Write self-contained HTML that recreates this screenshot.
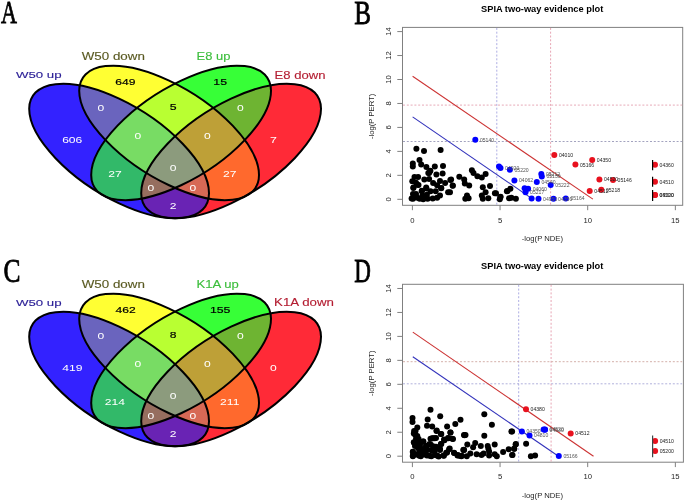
<!DOCTYPE html><html><head><meta charset="utf-8"><style>html,body{margin:0;padding:0;background:#fff;}svg{display:block;will-change:transform;}text{font-family:"Liberation Sans",sans-serif;}</style></head><body>
<svg width="685" height="502" viewBox="0 0 685 502">
<rect width="685" height="502" fill="#fff"/>
<text x="0.88" y="23.30" textLength="15.98" lengthAdjust="spacingAndGlyphs" font-size="32.58" fill="#000" style="font-family:'Liberation Serif'" stroke="#000" stroke-width="0.8">A</text>
<text x="354.21" y="23.60" textLength="16.73" lengthAdjust="spacingAndGlyphs" font-size="32.82" fill="#000" style="font-family:'Liberation Serif'" stroke="#000" stroke-width="0.8">B</text>
<text x="3.38" y="281.50" textLength="17.01" lengthAdjust="spacingAndGlyphs" font-size="33.36" fill="#000" style="font-family:'Liberation Serif'" stroke="#000" stroke-width="0.8">C</text>
<text x="354.27" y="281.60" textLength="16.65" lengthAdjust="spacingAndGlyphs" font-size="32.82" fill="#000" style="font-family:'Liberation Serif'" stroke="#000" stroke-width="0.8">D</text>
<defs>
<clipPath id="caB"><circle r="1" transform="matrix(89.900,42.134,0,-52.350,119.10,151.00)"/></clipPath>
<clipPath id="caY"><circle r="1" transform="matrix(89.900,42.134,0,-52.350,169.10,132.90)"/></clipPath>
<clipPath id="caG"><circle r="1" transform="matrix(-89.900,42.134,0,-52.350,181.10,132.90)"/></clipPath>
<clipPath id="caR"><circle r="1" transform="matrix(-89.900,42.134,0,-52.350,231.10,151.00)"/></clipPath>
</defs>
<g clip-path="url(#caB)"><rect x="0" y="0" width="340" height="260" fill="#3322ff"/></g>
<g clip-path="url(#caY)"><rect x="0" y="0" width="340" height="260" fill="#ffff33"/></g>
<g clip-path="url(#caG)"><rect x="0" y="0" width="340" height="260" fill="#37ff37"/></g>
<g clip-path="url(#caR)"><rect x="0" y="0" width="340" height="260" fill="#ff2a37"/></g>
<g clip-path="url(#caY)"><g clip-path="url(#caB)"><rect x="0" y="0" width="340" height="260" fill="#6a64be"/></g></g>
<g clip-path="url(#caG)"><g clip-path="url(#caY)"><rect x="0" y="0" width="340" height="260" fill="#b9ff32"/></g></g>
<g clip-path="url(#caR)"><g clip-path="url(#caG)"><rect x="0" y="0" width="340" height="260" fill="#6eb432"/></g></g>
<g clip-path="url(#caG)"><g clip-path="url(#caB)"><rect x="0" y="0" width="340" height="260" fill="#32b969"/></g></g>
<g clip-path="url(#caR)"><g clip-path="url(#caY)"><rect x="0" y="0" width="340" height="260" fill="#ff692d"/></g></g>
<g clip-path="url(#caR)"><g clip-path="url(#caB)"><rect x="0" y="0" width="340" height="260" fill="#6923b4"/></g></g>
<g clip-path="url(#caG)"><g clip-path="url(#caY)"><g clip-path="url(#caB)"><rect x="0" y="0" width="340" height="260" fill="#78dc64"/></g></g></g>
<g clip-path="url(#caR)"><g clip-path="url(#caG)"><g clip-path="url(#caY)"><rect x="0" y="0" width="340" height="260" fill="#bea037"/></g></g></g>
<g clip-path="url(#caR)"><g clip-path="url(#caG)"><g clip-path="url(#caB)"><rect x="0" y="0" width="340" height="260" fill="#966e5f"/></g></g></g>
<g clip-path="url(#caR)"><g clip-path="url(#caY)"><g clip-path="url(#caB)"><rect x="0" y="0" width="340" height="260" fill="#d76955"/></g></g></g>
<g clip-path="url(#caR)"><g clip-path="url(#caG)"><g clip-path="url(#caY)"><g clip-path="url(#caB)"><rect x="0" y="0" width="340" height="260" fill="#8c9b7d"/></g></g></g></g>
<circle r="1" transform="matrix(89.900,42.134,0,-52.350,119.10,151.00)" fill="none" stroke="#000" stroke-width="2" vector-effect="non-scaling-stroke"/>
<circle r="1" transform="matrix(89.900,42.134,0,-52.350,169.10,132.90)" fill="none" stroke="#000" stroke-width="2" vector-effect="non-scaling-stroke"/>
<circle r="1" transform="matrix(-89.900,42.134,0,-52.350,181.10,132.90)" fill="none" stroke="#000" stroke-width="2" vector-effect="non-scaling-stroke"/>
<circle r="1" transform="matrix(-89.900,42.134,0,-52.350,231.10,151.00)" fill="none" stroke="#000" stroke-width="2" vector-effect="non-scaling-stroke"/>
<text x="15.93" y="78.00" textLength="45.72" lengthAdjust="spacingAndGlyphs" font-size="9.89" fill="#2a1e96" style="font-family:'Liberation Sans'" stroke="#2a1e96" stroke-width="0.12">W50 up</text>
<text x="81.73" y="59.80" textLength="63.13" lengthAdjust="spacingAndGlyphs" font-size="10.18" fill="#5a5a22" style="font-family:'Liberation Sans'" stroke="#5a5a22" stroke-width="0.12">W50 down</text>
<text x="196.63" y="59.70" textLength="33.90" lengthAdjust="spacingAndGlyphs" font-size="10.04" fill="#3cbe3c" style="font-family:'Liberation Sans'" stroke="#3cbe3c" stroke-width="0.12">E8 up</text>
<text x="274.62" y="78.50" textLength="50.92" lengthAdjust="spacingAndGlyphs" font-size="10.33" fill="#b41e32" style="font-family:'Liberation Sans'" stroke="#b41e32" stroke-width="0.12">E8 down</text>
<text x="115.27" y="84.65" textLength="20.21" lengthAdjust="spacingAndGlyphs" font-size="9.32" fill="#000" style="font-family:'Liberation Sans'" stroke="#000" stroke-width="0.18">649</text>
<text x="213.36" y="84.65" textLength="13.67" lengthAdjust="spacingAndGlyphs" font-size="9.45" fill="#000" style="font-family:'Liberation Sans'" stroke="#000" stroke-width="0.18">15</text>
<text x="97.62" y="110.85" textLength="6.74" lengthAdjust="spacingAndGlyphs" font-size="9.32" fill="#fff" style="font-family:'Liberation Sans'" stroke="#fff" stroke-width="0">0</text>
<text x="169.69" y="110.45" textLength="6.84" lengthAdjust="spacingAndGlyphs" font-size="9.45" fill="#000" style="font-family:'Liberation Sans'" stroke="#000" stroke-width="0.18">5</text>
<text x="237.02" y="110.75" textLength="6.74" lengthAdjust="spacingAndGlyphs" font-size="9.32" fill="#fff" style="font-family:'Liberation Sans'" stroke="#fff" stroke-width="0">0</text>
<text x="62.15" y="143.45" textLength="20.21" lengthAdjust="spacingAndGlyphs" font-size="9.32" fill="#fff" style="font-family:'Liberation Sans'" stroke="#fff" stroke-width="0">606</text>
<text x="134.52" y="139.25" textLength="6.74" lengthAdjust="spacingAndGlyphs" font-size="9.32" fill="#fff" style="font-family:'Liberation Sans'" stroke="#fff" stroke-width="0">0</text>
<text x="204.02" y="138.75" textLength="6.74" lengthAdjust="spacingAndGlyphs" font-size="9.32" fill="#fff" style="font-family:'Liberation Sans'" stroke="#fff" stroke-width="0">0</text>
<text x="269.99" y="143.25" textLength="6.84" lengthAdjust="spacingAndGlyphs" font-size="9.45" fill="#fff" style="font-family:'Liberation Sans'" stroke="#fff" stroke-width="0">7</text>
<text x="169.72" y="171.05" textLength="6.74" lengthAdjust="spacingAndGlyphs" font-size="9.32" fill="#fff" style="font-family:'Liberation Sans'" stroke="#fff" stroke-width="0">0</text>
<text x="108.28" y="177.45" textLength="13.48" lengthAdjust="spacingAndGlyphs" font-size="9.32" fill="#fff" style="font-family:'Liberation Sans'" stroke="#fff" stroke-width="0">27</text>
<text x="223.08" y="177.45" textLength="13.48" lengthAdjust="spacingAndGlyphs" font-size="9.32" fill="#fff" style="font-family:'Liberation Sans'" stroke="#fff" stroke-width="0">27</text>
<text x="147.52" y="190.65" textLength="6.74" lengthAdjust="spacingAndGlyphs" font-size="9.32" fill="#fff" style="font-family:'Liberation Sans'" stroke="#fff" stroke-width="0">0</text>
<text x="189.62" y="190.65" textLength="6.74" lengthAdjust="spacingAndGlyphs" font-size="9.32" fill="#fff" style="font-family:'Liberation Sans'" stroke="#fff" stroke-width="0">0</text>
<text x="169.74" y="208.55" textLength="6.74" lengthAdjust="spacingAndGlyphs" font-size="9.32" fill="#fff" style="font-family:'Liberation Sans'" stroke="#fff" stroke-width="0">2</text>
<defs>
<clipPath id="ccB"><circle r="1" transform="matrix(89.900,42.134,0,-52.350,119.10,379.00)"/></clipPath>
<clipPath id="ccY"><circle r="1" transform="matrix(89.900,42.134,0,-52.350,169.10,360.90)"/></clipPath>
<clipPath id="ccG"><circle r="1" transform="matrix(-89.900,42.134,0,-52.350,181.10,360.90)"/></clipPath>
<clipPath id="ccR"><circle r="1" transform="matrix(-89.900,42.134,0,-52.350,231.10,379.00)"/></clipPath>
</defs>
<g clip-path="url(#ccB)"><rect x="0" y="228" width="340" height="260" fill="#3322ff"/></g>
<g clip-path="url(#ccY)"><rect x="0" y="228" width="340" height="260" fill="#ffff33"/></g>
<g clip-path="url(#ccG)"><rect x="0" y="228" width="340" height="260" fill="#37ff37"/></g>
<g clip-path="url(#ccR)"><rect x="0" y="228" width="340" height="260" fill="#ff2a37"/></g>
<g clip-path="url(#ccY)"><g clip-path="url(#ccB)"><rect x="0" y="228" width="340" height="260" fill="#6a64be"/></g></g>
<g clip-path="url(#ccG)"><g clip-path="url(#ccY)"><rect x="0" y="228" width="340" height="260" fill="#b9ff32"/></g></g>
<g clip-path="url(#ccR)"><g clip-path="url(#ccG)"><rect x="0" y="228" width="340" height="260" fill="#6eb432"/></g></g>
<g clip-path="url(#ccG)"><g clip-path="url(#ccB)"><rect x="0" y="228" width="340" height="260" fill="#32b969"/></g></g>
<g clip-path="url(#ccR)"><g clip-path="url(#ccY)"><rect x="0" y="228" width="340" height="260" fill="#ff692d"/></g></g>
<g clip-path="url(#ccR)"><g clip-path="url(#ccB)"><rect x="0" y="228" width="340" height="260" fill="#6923b4"/></g></g>
<g clip-path="url(#ccG)"><g clip-path="url(#ccY)"><g clip-path="url(#ccB)"><rect x="0" y="228" width="340" height="260" fill="#78dc64"/></g></g></g>
<g clip-path="url(#ccR)"><g clip-path="url(#ccG)"><g clip-path="url(#ccY)"><rect x="0" y="228" width="340" height="260" fill="#bea037"/></g></g></g>
<g clip-path="url(#ccR)"><g clip-path="url(#ccG)"><g clip-path="url(#ccB)"><rect x="0" y="228" width="340" height="260" fill="#966e5f"/></g></g></g>
<g clip-path="url(#ccR)"><g clip-path="url(#ccY)"><g clip-path="url(#ccB)"><rect x="0" y="228" width="340" height="260" fill="#d76955"/></g></g></g>
<g clip-path="url(#ccR)"><g clip-path="url(#ccG)"><g clip-path="url(#ccY)"><g clip-path="url(#ccB)"><rect x="0" y="228" width="340" height="260" fill="#8c9b7d"/></g></g></g></g>
<circle r="1" transform="matrix(89.900,42.134,0,-52.350,119.10,379.00)" fill="none" stroke="#000" stroke-width="2" vector-effect="non-scaling-stroke"/>
<circle r="1" transform="matrix(89.900,42.134,0,-52.350,169.10,360.90)" fill="none" stroke="#000" stroke-width="2" vector-effect="non-scaling-stroke"/>
<circle r="1" transform="matrix(-89.900,42.134,0,-52.350,181.10,360.90)" fill="none" stroke="#000" stroke-width="2" vector-effect="non-scaling-stroke"/>
<circle r="1" transform="matrix(-89.900,42.134,0,-52.350,231.10,379.00)" fill="none" stroke="#000" stroke-width="2" vector-effect="non-scaling-stroke"/>
<text x="15.93" y="306.00" textLength="45.72" lengthAdjust="spacingAndGlyphs" font-size="9.89" fill="#2a1e96" style="font-family:'Liberation Sans'" stroke="#2a1e96" stroke-width="0.12">W50 up</text>
<text x="81.73" y="287.80" textLength="63.13" lengthAdjust="spacingAndGlyphs" font-size="10.18" fill="#5a5a22" style="font-family:'Liberation Sans'" stroke="#5a5a22" stroke-width="0.12">W50 down</text>
<text x="196.52" y="287.80" textLength="42.21" lengthAdjust="spacingAndGlyphs" font-size="10.18" fill="#3cbe3c" style="font-family:'Liberation Sans'" stroke="#3cbe3c" stroke-width="0.12">K1A up</text>
<text x="274.10" y="306.30" textLength="59.84" lengthAdjust="spacingAndGlyphs" font-size="10.33" fill="#b41e32" style="font-family:'Liberation Sans'" stroke="#b41e32" stroke-width="0.12">K1A down</text>
<text x="115.47" y="312.65" textLength="20.21" lengthAdjust="spacingAndGlyphs" font-size="9.32" fill="#000" style="font-family:'Liberation Sans'" stroke="#000" stroke-width="0.18">462</text>
<text x="209.94" y="312.65" textLength="20.51" lengthAdjust="spacingAndGlyphs" font-size="9.45" fill="#000" style="font-family:'Liberation Sans'" stroke="#000" stroke-width="0.18">155</text>
<text x="97.62" y="338.85" textLength="6.74" lengthAdjust="spacingAndGlyphs" font-size="9.32" fill="#fff" style="font-family:'Liberation Sans'" stroke="#fff" stroke-width="0">0</text>
<text x="169.74" y="338.45" textLength="6.74" lengthAdjust="spacingAndGlyphs" font-size="9.32" fill="#000" style="font-family:'Liberation Sans'" stroke="#000" stroke-width="0.18">8</text>
<text x="237.02" y="338.75" textLength="6.74" lengthAdjust="spacingAndGlyphs" font-size="9.32" fill="#fff" style="font-family:'Liberation Sans'" stroke="#fff" stroke-width="0">0</text>
<text x="62.34" y="371.45" textLength="20.21" lengthAdjust="spacingAndGlyphs" font-size="9.32" fill="#fff" style="font-family:'Liberation Sans'" stroke="#fff" stroke-width="0">419</text>
<text x="134.52" y="367.25" textLength="6.74" lengthAdjust="spacingAndGlyphs" font-size="9.32" fill="#fff" style="font-family:'Liberation Sans'" stroke="#fff" stroke-width="0">0</text>
<text x="204.02" y="366.75" textLength="6.74" lengthAdjust="spacingAndGlyphs" font-size="9.32" fill="#fff" style="font-family:'Liberation Sans'" stroke="#fff" stroke-width="0">0</text>
<text x="270.02" y="371.25" textLength="6.74" lengthAdjust="spacingAndGlyphs" font-size="9.32" fill="#fff" style="font-family:'Liberation Sans'" stroke="#fff" stroke-width="0">0</text>
<text x="169.72" y="399.05" textLength="6.74" lengthAdjust="spacingAndGlyphs" font-size="9.32" fill="#fff" style="font-family:'Liberation Sans'" stroke="#fff" stroke-width="0">0</text>
<text x="104.76" y="405.45" textLength="20.21" lengthAdjust="spacingAndGlyphs" font-size="9.32" fill="#fff" style="font-family:'Liberation Sans'" stroke="#fff" stroke-width="0">214</text>
<text x="220.14" y="405.45" textLength="19.31" lengthAdjust="spacingAndGlyphs" font-size="9.32" fill="#fff" style="font-family:'Liberation Sans'" stroke="#fff" stroke-width="0">211</text>
<text x="147.52" y="418.65" textLength="6.74" lengthAdjust="spacingAndGlyphs" font-size="9.32" fill="#fff" style="font-family:'Liberation Sans'" stroke="#fff" stroke-width="0">0</text>
<text x="189.62" y="418.65" textLength="6.74" lengthAdjust="spacingAndGlyphs" font-size="9.32" fill="#fff" style="font-family:'Liberation Sans'" stroke="#fff" stroke-width="0">0</text>
<text x="169.74" y="436.55" textLength="6.74" lengthAdjust="spacingAndGlyphs" font-size="9.32" fill="#fff" style="font-family:'Liberation Sans'" stroke="#fff" stroke-width="0">2</text>
<g transform="translate(0,0.00)">
<text x="481.02" y="11.75" textLength="122.20" lengthAdjust="spacingAndGlyphs" font-size="8.90" fill="#000" style="font-family:'Liberation Sans'" font-weight="bold">SPIA two-way evidence plot</text>
<rect x="402.5" y="27.4" width="280.2" height="177.9" fill="none" stroke="#808080" stroke-width="1"/>
<line x1="397.3" x2="402.5" y1="199.30" y2="199.30" stroke="#808080" stroke-width="1"/>
<text transform="translate(391.1,199.30) rotate(-90)" text-anchor="middle" font-size="7.7" fill="#262626">0</text>
<line x1="397.3" x2="402.5" y1="175.34" y2="175.34" stroke="#808080" stroke-width="1"/>
<text transform="translate(391.1,175.34) rotate(-90)" text-anchor="middle" font-size="7.7" fill="#262626">2</text>
<line x1="397.3" x2="402.5" y1="151.38" y2="151.38" stroke="#808080" stroke-width="1"/>
<text transform="translate(391.1,151.38) rotate(-90)" text-anchor="middle" font-size="7.7" fill="#262626">4</text>
<line x1="397.3" x2="402.5" y1="127.42" y2="127.42" stroke="#808080" stroke-width="1"/>
<text transform="translate(391.1,127.42) rotate(-90)" text-anchor="middle" font-size="7.7" fill="#262626">6</text>
<line x1="397.3" x2="402.5" y1="103.46" y2="103.46" stroke="#808080" stroke-width="1"/>
<text transform="translate(391.1,103.46) rotate(-90)" text-anchor="middle" font-size="7.7" fill="#262626">8</text>
<line x1="397.3" x2="402.5" y1="79.50" y2="79.50" stroke="#808080" stroke-width="1"/>
<text transform="translate(391.1,79.50) rotate(-90)" text-anchor="middle" font-size="7.7" fill="#262626">10</text>
<line x1="397.3" x2="402.5" y1="55.54" y2="55.54" stroke="#808080" stroke-width="1"/>
<text transform="translate(391.1,55.54) rotate(-90)" text-anchor="middle" font-size="7.7" fill="#262626">12</text>
<line x1="397.3" x2="402.5" y1="31.58" y2="31.58" stroke="#808080" stroke-width="1"/>
<text transform="translate(391.1,31.58) rotate(-90)" text-anchor="middle" font-size="7.7" fill="#262626">14</text>
<line x1="412.40" x2="412.40" y1="205.3" y2="210.2" stroke="#808080" stroke-width="1"/>
<text x="412.40" y="222.6" text-anchor="middle" font-size="7.7" fill="#262626">0</text>
<line x1="500.05" x2="500.05" y1="205.3" y2="210.2" stroke="#808080" stroke-width="1"/>
<text x="500.05" y="222.6" text-anchor="middle" font-size="7.7" fill="#262626">5</text>
<line x1="587.70" x2="587.70" y1="205.3" y2="210.2" stroke="#808080" stroke-width="1"/>
<text x="587.70" y="222.6" text-anchor="middle" font-size="7.7" fill="#262626">10</text>
<line x1="675.35" x2="675.35" y1="205.3" y2="210.2" stroke="#808080" stroke-width="1"/>
<text x="675.35" y="222.6" text-anchor="middle" font-size="7.7" fill="#262626">15</text>
<text x="542.4" y="241.3" text-anchor="middle" font-size="7.7" fill="#262626">-log(P NDE)</text>
<text transform="translate(374.1,116.35) rotate(-90)" text-anchor="middle" font-size="7.7" fill="#262626">-log(P PERT)</text>
<line x1="496.80" x2="496.80" y1="27.9" y2="204.8" stroke="#a4a4e0" stroke-width="0.9" stroke-dasharray="2,1.8"/>
<line x1="550.60" x2="550.60" y1="27.9" y2="204.8" stroke="#e49cac" stroke-width="0.9" stroke-dasharray="2,1.8"/>
<line x1="403" x2="682.2" y1="141.50" y2="141.50" stroke="#9898b8" stroke-width="0.9" stroke-dasharray="2,1.8"/>
<line x1="403" x2="682.2" y1="105.10" y2="105.10" stroke="#e4a0b0" stroke-width="0.9" stroke-dasharray="2,1.8"/>
<line x1="412.60" y1="76.20" x2="592.90" y2="199.10" stroke="#cc3333" stroke-width="1.1"/>
<line x1="412.60" y1="116.90" x2="532.70" y2="199.10" stroke="#3333bb" stroke-width="1.1"/>
<circle cx="416.4" cy="148.8" r="3.0" fill="#000"/>
<circle cx="424.0" cy="151.0" r="3.0" fill="#000"/>
<circle cx="440.6" cy="150.1" r="3.0" fill="#000"/>
<circle cx="419.5" cy="160.1" r="3.0" fill="#000"/>
<circle cx="412.8" cy="163.6" r="3.0" fill="#000"/>
<circle cx="412.8" cy="166.6" r="3.0" fill="#000"/>
<circle cx="421.2" cy="164.6" r="3.0" fill="#000"/>
<circle cx="426.4" cy="166.9" r="3.0" fill="#000"/>
<circle cx="434.8" cy="166.6" r="3.0" fill="#000"/>
<circle cx="443.0" cy="165.9" r="3.0" fill="#000"/>
<circle cx="430.3" cy="170.8" r="3.0" fill="#000"/>
<circle cx="428.3" cy="173.0" r="3.0" fill="#000"/>
<circle cx="429.1" cy="172.9" r="3.0" fill="#000"/>
<circle cx="430.2" cy="171.1" r="3.0" fill="#000"/>
<circle cx="436.4" cy="174.4" r="3.0" fill="#000"/>
<circle cx="442.6" cy="173.6" r="3.0" fill="#000"/>
<circle cx="414.5" cy="176.9" r="3.0" fill="#000"/>
<circle cx="418.1" cy="176.9" r="3.0" fill="#000"/>
<circle cx="424.3" cy="179.5" r="3.0" fill="#000"/>
<circle cx="429.1" cy="179.1" r="3.0" fill="#000"/>
<circle cx="412.3" cy="181.3" r="3.0" fill="#000"/>
<circle cx="416.0" cy="182.8" r="3.0" fill="#000"/>
<circle cx="418.5" cy="185.0" r="3.0" fill="#000"/>
<circle cx="413.4" cy="187.5" r="3.0" fill="#000"/>
<circle cx="426.2" cy="187.5" r="3.0" fill="#000"/>
<circle cx="433.1" cy="183.1" r="3.0" fill="#000"/>
<circle cx="440.0" cy="181.0" r="3.0" fill="#000"/>
<circle cx="445.1" cy="183.1" r="3.0" fill="#000"/>
<circle cx="450.3" cy="179.9" r="3.0" fill="#000"/>
<circle cx="452.8" cy="185.7" r="3.0" fill="#000"/>
<circle cx="437.1" cy="185.3" r="3.0" fill="#000"/>
<circle cx="441.1" cy="188.2" r="3.0" fill="#000"/>
<circle cx="448.1" cy="192.3" r="3.0" fill="#000"/>
<circle cx="421.8" cy="190.8" r="3.0" fill="#000"/>
<circle cx="430.5" cy="191.2" r="3.0" fill="#000"/>
<circle cx="435.7" cy="191.2" r="3.0" fill="#000"/>
<circle cx="413.0" cy="194.1" r="3.0" fill="#000"/>
<circle cx="413.0" cy="198.8" r="3.0" fill="#000"/>
<circle cx="417.4" cy="197.7" r="3.0" fill="#000"/>
<circle cx="422.5" cy="195.5" r="3.0" fill="#000"/>
<circle cx="423.2" cy="199.2" r="3.0" fill="#000"/>
<circle cx="427.6" cy="198.8" r="3.0" fill="#000"/>
<circle cx="432.7" cy="198.5" r="3.0" fill="#000"/>
<circle cx="437.1" cy="197.7" r="3.0" fill="#000"/>
<circle cx="440.0" cy="195.5" r="3.0" fill="#000"/>
<circle cx="416.0" cy="194.1" r="3.0" fill="#000"/>
<circle cx="426.9" cy="194.8" r="3.0" fill="#000"/>
<circle cx="419.6" cy="198.8" r="3.0" fill="#000"/>
<circle cx="411.6" cy="198.5" r="3.0" fill="#000"/>
<circle cx="417.3" cy="184.7" r="3.0" fill="#000"/>
<circle cx="413.4" cy="187.9" r="3.0" fill="#000"/>
<circle cx="426.4" cy="188.6" r="3.0" fill="#000"/>
<circle cx="421.8" cy="191.2" r="3.0" fill="#000"/>
<circle cx="441.3" cy="187.9" r="3.0" fill="#000"/>
<circle cx="471.9" cy="170.3" r="3.0" fill="#000"/>
<circle cx="473.5" cy="173.0" r="3.0" fill="#000"/>
<circle cx="477.4" cy="176.3" r="3.0" fill="#000"/>
<circle cx="481.8" cy="177.4" r="3.0" fill="#000"/>
<circle cx="485.6" cy="174.1" r="3.0" fill="#000"/>
<circle cx="459.3" cy="176.8" r="3.0" fill="#000"/>
<circle cx="464.2" cy="179.6" r="3.0" fill="#000"/>
<circle cx="464.8" cy="183.4" r="3.0" fill="#000"/>
<circle cx="469.2" cy="185.6" r="3.0" fill="#000"/>
<circle cx="451.1" cy="179.6" r="3.0" fill="#000"/>
<circle cx="452.7" cy="185.6" r="3.0" fill="#000"/>
<circle cx="450.0" cy="192.2" r="3.0" fill="#000"/>
<circle cx="482.8" cy="187.2" r="3.0" fill="#000"/>
<circle cx="490.0" cy="186.1" r="3.0" fill="#000"/>
<circle cx="485.6" cy="192.2" r="3.0" fill="#000"/>
<circle cx="481.8" cy="195.4" r="3.0" fill="#000"/>
<circle cx="488.3" cy="198.2" r="3.0" fill="#000"/>
<circle cx="482.8" cy="198.7" r="3.0" fill="#000"/>
<circle cx="467.0" cy="195.4" r="3.0" fill="#000"/>
<circle cx="468.6" cy="198.2" r="3.0" fill="#000"/>
<circle cx="465.3" cy="198.7" r="3.0" fill="#000"/>
<circle cx="494.9" cy="193.2" r="3.0" fill="#000"/>
<circle cx="500.4" cy="197.1" r="3.0" fill="#000"/>
<circle cx="499.8" cy="199.3" r="3.0" fill="#000"/>
<circle cx="507.5" cy="191.1" r="3.0" fill="#000"/>
<circle cx="509.1" cy="198.2" r="3.0" fill="#000"/>
<circle cx="496.0" cy="193.3" r="3.0" fill="#000"/>
<circle cx="500.5" cy="196.8" r="3.0" fill="#000"/>
<circle cx="506.9" cy="191.3" r="3.0" fill="#000"/>
<circle cx="510.4" cy="188.8" r="3.0" fill="#000"/>
<circle cx="511.4" cy="197.8" r="3.0" fill="#000"/>
<circle cx="515.9" cy="198.8" r="3.0" fill="#000"/>
<circle cx="475.3" cy="139.8" r="3.0" fill="#0000ff"/>
<circle cx="499.0" cy="166.4" r="3.0" fill="#0000ff"/>
<circle cx="500.5" cy="167.9" r="3.0" fill="#0000ff"/>
<circle cx="509.9" cy="169.7" r="3.0" fill="#0000ff"/>
<circle cx="514.4" cy="180.4" r="3.0" fill="#0000ff"/>
<circle cx="541.3" cy="173.9" r="3.0" fill="#0000ff"/>
<circle cx="541.8" cy="176.4" r="3.0" fill="#0000ff"/>
<circle cx="536.8" cy="181.9" r="3.0" fill="#0000ff"/>
<circle cx="550.7" cy="184.9" r="3.0" fill="#0000ff"/>
<circle cx="524.6" cy="188.3" r="3.0" fill="#0000ff"/>
<circle cx="528.1" cy="188.8" r="3.0" fill="#0000ff"/>
<circle cx="525.5" cy="192.3" r="3.0" fill="#0000ff"/>
<circle cx="531.6" cy="198.4" r="3.0" fill="#0000ff"/>
<circle cx="538.5" cy="198.8" r="3.0" fill="#0000ff"/>
<circle cx="553.5" cy="198.8" r="3.0" fill="#0000ff"/>
<circle cx="565.8" cy="198.4" r="3.0" fill="#0000ff"/>
<circle cx="554.3" cy="154.9" r="3.0" fill="#e8111e"/>
<circle cx="592.2" cy="160.1" r="3.0" fill="#e8111e"/>
<circle cx="575.4" cy="164.6" r="3.0" fill="#e8111e"/>
<circle cx="599.4" cy="179.5" r="3.0" fill="#e8111e"/>
<circle cx="613.0" cy="180.1" r="3.0" fill="#e8111e"/>
<circle cx="589.7" cy="191.1" r="3.0" fill="#e8111e"/>
<circle cx="601.3" cy="189.8" r="3.0" fill="#e8111e"/>
<circle cx="655.0" cy="164.8" r="3.0" fill="#e8111e"/>
<circle cx="655.0" cy="181.8" r="3.0" fill="#e8111e"/>
<circle cx="655.0" cy="195.1" r="3.0" fill="#e8111e"/>
<circle cx="655.0" cy="195.1" r="3.0" fill="#e8111e"/>
<line x1="652.6" x2="652.6" y1="159.9" y2="170.3" stroke="#000" stroke-width="1.2"/>
<line x1="652.6" x2="652.6" y1="176.8" y2="186.7" stroke="#000" stroke-width="1.2"/>
<line x1="652.6" x2="652.6" y1="190.0" y2="201.0" stroke="#000" stroke-width="1.2"/>
<text x="479.9" y="141.7" font-size="5.1" fill="#555">05140</text>
<text x="505.1" y="169.8" font-size="5.1" fill="#555">04920</text>
<text x="514.5" y="171.6" font-size="5.1" fill="#555">05220</text>
<text x="519.0" y="182.3" font-size="5.1" fill="#555">04062</text>
<text x="545.9" y="175.8" font-size="5.1" fill="#555">05212</text>
<text x="546.4" y="178.3" font-size="5.1" fill="#555">05130</text>
<text x="541.4" y="183.8" font-size="5.1" fill="#555">04540</text>
<text x="555.3" y="186.8" font-size="5.1" fill="#555">05222</text>
<text x="532.7" y="190.7" font-size="5.1" fill="#555">04060</text>
<text x="530.1" y="194.2" font-size="5.1" fill="#555">05217</text>
<text x="543.1" y="200.7" font-size="5.1" fill="#555">04950</text>
<text x="558.1" y="200.7" font-size="5.1" fill="#555">04350</text>
<text x="570.4" y="200.3" font-size="5.1" fill="#555">05164</text>
<text x="558.9" y="156.8" font-size="5.1" fill="#222">04010</text>
<text x="596.8" y="162.0" font-size="5.1" fill="#222">04350</text>
<text x="580.0" y="166.5" font-size="5.1" fill="#222">05166</text>
<text x="604.0" y="181.4" font-size="5.1" fill="#222">04520</text>
<text x="617.6" y="182.0" font-size="5.1" fill="#222">05146</text>
<text x="594.3" y="193.0" font-size="5.1" fill="#222">04512</text>
<text x="605.9" y="191.7" font-size="5.1" fill="#222">05218</text>
<text x="659.6" y="166.7" font-size="5.1" fill="#222">04360</text>
<text x="659.6" y="183.7" font-size="5.1" fill="#222">04510</text>
<text x="659.6" y="197.0" font-size="5.1" fill="#222">05200</text>
<text x="659.6" y="197.0" font-size="5.1" fill="#222">04520</text>
</g>
<g transform="translate(0,256.90)">
<text x="481.02" y="11.75" textLength="122.20" lengthAdjust="spacingAndGlyphs" font-size="8.90" fill="#000" style="font-family:'Liberation Sans'" font-weight="bold">SPIA two-way evidence plot</text>
<rect x="402.5" y="27.4" width="280.9" height="177.9" fill="none" stroke="#808080" stroke-width="1"/>
<line x1="397.3" x2="402.5" y1="199.30" y2="199.30" stroke="#808080" stroke-width="1"/>
<text transform="translate(391.1,199.30) rotate(-90)" text-anchor="middle" font-size="7.7" fill="#262626">0</text>
<line x1="397.3" x2="402.5" y1="175.34" y2="175.34" stroke="#808080" stroke-width="1"/>
<text transform="translate(391.1,175.34) rotate(-90)" text-anchor="middle" font-size="7.7" fill="#262626">2</text>
<line x1="397.3" x2="402.5" y1="151.38" y2="151.38" stroke="#808080" stroke-width="1"/>
<text transform="translate(391.1,151.38) rotate(-90)" text-anchor="middle" font-size="7.7" fill="#262626">4</text>
<line x1="397.3" x2="402.5" y1="127.42" y2="127.42" stroke="#808080" stroke-width="1"/>
<text transform="translate(391.1,127.42) rotate(-90)" text-anchor="middle" font-size="7.7" fill="#262626">6</text>
<line x1="397.3" x2="402.5" y1="103.46" y2="103.46" stroke="#808080" stroke-width="1"/>
<text transform="translate(391.1,103.46) rotate(-90)" text-anchor="middle" font-size="7.7" fill="#262626">8</text>
<line x1="397.3" x2="402.5" y1="79.50" y2="79.50" stroke="#808080" stroke-width="1"/>
<text transform="translate(391.1,79.50) rotate(-90)" text-anchor="middle" font-size="7.7" fill="#262626">10</text>
<line x1="397.3" x2="402.5" y1="55.54" y2="55.54" stroke="#808080" stroke-width="1"/>
<text transform="translate(391.1,55.54) rotate(-90)" text-anchor="middle" font-size="7.7" fill="#262626">12</text>
<line x1="397.3" x2="402.5" y1="31.58" y2="31.58" stroke="#808080" stroke-width="1"/>
<text transform="translate(391.1,31.58) rotate(-90)" text-anchor="middle" font-size="7.7" fill="#262626">14</text>
<line x1="412.40" x2="412.40" y1="205.3" y2="210.2" stroke="#808080" stroke-width="1"/>
<text x="412.40" y="222.6" text-anchor="middle" font-size="7.7" fill="#262626">0</text>
<line x1="500.05" x2="500.05" y1="205.3" y2="210.2" stroke="#808080" stroke-width="1"/>
<text x="500.05" y="222.6" text-anchor="middle" font-size="7.7" fill="#262626">5</text>
<line x1="587.70" x2="587.70" y1="205.3" y2="210.2" stroke="#808080" stroke-width="1"/>
<text x="587.70" y="222.6" text-anchor="middle" font-size="7.7" fill="#262626">10</text>
<line x1="675.35" x2="675.35" y1="205.3" y2="210.2" stroke="#808080" stroke-width="1"/>
<text x="675.35" y="222.6" text-anchor="middle" font-size="7.7" fill="#262626">15</text>
<text x="542.4" y="241.3" text-anchor="middle" font-size="7.7" fill="#262626">-log(P NDE)</text>
<text transform="translate(374.1,116.35) rotate(-90)" text-anchor="middle" font-size="7.7" fill="#262626">-log(P PERT)</text>
<line x1="518.70" x2="518.70" y1="27.9" y2="204.8" stroke="#a4a4e0" stroke-width="0.9" stroke-dasharray="2,1.8"/>
<line x1="551.10" x2="551.10" y1="27.9" y2="204.8" stroke="#e49cac" stroke-width="0.9" stroke-dasharray="2,1.8"/>
<line x1="403" x2="682.2" y1="126.90" y2="126.90" stroke="#a8a8d8" stroke-width="0.9" stroke-dasharray="2,1.8"/>
<line x1="403" x2="682.2" y1="104.80" y2="104.80" stroke="#d0a8a0" stroke-width="0.9" stroke-dasharray="2,1.8"/>
<line x1="412.80" y1="75.20" x2="593.50" y2="199.30" stroke="#cc3333" stroke-width="1.1"/>
<line x1="412.80" y1="99.80" x2="558.50" y2="199.30" stroke="#3333bb" stroke-width="1.1"/>
<circle cx="430.5" cy="152.8" r="3.0" fill="#000"/>
<circle cx="440.2" cy="159.3" r="3.0" fill="#000"/>
<circle cx="460.5" cy="162.8" r="3.0" fill="#000"/>
<circle cx="455.3" cy="167.1" r="3.0" fill="#000"/>
<circle cx="412.5" cy="161.2" r="3.0" fill="#000"/>
<circle cx="412.5" cy="165.1" r="3.0" fill="#000"/>
<circle cx="427.7" cy="162.5" r="3.0" fill="#000"/>
<circle cx="427.0" cy="168.8" r="3.0" fill="#000"/>
<circle cx="432.2" cy="169.7" r="3.0" fill="#000"/>
<circle cx="436.7" cy="173.6" r="3.0" fill="#000"/>
<circle cx="441.3" cy="177.1" r="3.0" fill="#000"/>
<circle cx="447.1" cy="169.7" r="3.0" fill="#000"/>
<circle cx="450.4" cy="175.5" r="3.0" fill="#000"/>
<circle cx="417.3" cy="170.6" r="3.0" fill="#000"/>
<circle cx="414.1" cy="174.2" r="3.0" fill="#000"/>
<circle cx="415.4" cy="178.1" r="3.0" fill="#000"/>
<circle cx="418.6" cy="182.0" r="3.0" fill="#000"/>
<circle cx="423.1" cy="184.6" r="3.0" fill="#000"/>
<circle cx="414.1" cy="185.9" r="3.0" fill="#000"/>
<circle cx="432.2" cy="181.3" r="3.0" fill="#000"/>
<circle cx="434.8" cy="181.3" r="3.0" fill="#000"/>
<circle cx="444.5" cy="183.3" r="3.0" fill="#000"/>
<circle cx="448.4" cy="181.3" r="3.0" fill="#000"/>
<circle cx="453.0" cy="182.0" r="3.0" fill="#000"/>
<circle cx="441.3" cy="187.2" r="3.0" fill="#000"/>
<circle cx="464.0" cy="178.1" r="3.0" fill="#000"/>
<circle cx="426.4" cy="189.8" r="3.0" fill="#000"/>
<circle cx="430.9" cy="187.8" r="3.0" fill="#000"/>
<circle cx="436.1" cy="189.8" r="3.0" fill="#000"/>
<circle cx="440.0" cy="193.0" r="3.0" fill="#000"/>
<circle cx="449.1" cy="192.3" r="3.0" fill="#000"/>
<circle cx="454.2" cy="196.2" r="3.0" fill="#000"/>
<circle cx="459.4" cy="198.8" r="3.0" fill="#000"/>
<circle cx="463.3" cy="193.0" r="3.0" fill="#000"/>
<circle cx="412.8" cy="194.9" r="3.0" fill="#000"/>
<circle cx="412.8" cy="198.8" r="3.0" fill="#000"/>
<circle cx="419.3" cy="194.9" r="3.0" fill="#000"/>
<circle cx="419.3" cy="198.8" r="3.0" fill="#000"/>
<circle cx="425.7" cy="196.2" r="3.0" fill="#000"/>
<circle cx="429.6" cy="198.8" r="3.0" fill="#000"/>
<circle cx="434.8" cy="198.2" r="3.0" fill="#000"/>
<circle cx="438.7" cy="199.5" r="3.0" fill="#000"/>
<circle cx="443.9" cy="198.8" r="3.0" fill="#000"/>
<circle cx="447.1" cy="195.6" r="3.0" fill="#000"/>
<circle cx="418.0" cy="191.0" r="3.0" fill="#000"/>
<circle cx="424.4" cy="192.3" r="3.0" fill="#000"/>
<circle cx="432.2" cy="193.6" r="3.0" fill="#000"/>
<circle cx="484.3" cy="157.3" r="3.0" fill="#000"/>
<circle cx="491.9" cy="167.8" r="3.0" fill="#000"/>
<circle cx="465.5" cy="178.2" r="3.0" fill="#000"/>
<circle cx="484.3" cy="178.9" r="3.0" fill="#000"/>
<circle cx="511.4" cy="174.6" r="3.0" fill="#000"/>
<circle cx="467.3" cy="187.6" r="3.0" fill="#000"/>
<circle cx="475.2" cy="186.2" r="3.0" fill="#000"/>
<circle cx="473.1" cy="190.4" r="3.0" fill="#000"/>
<circle cx="480.8" cy="189.0" r="3.0" fill="#000"/>
<circle cx="487.7" cy="189.0" r="3.0" fill="#000"/>
<circle cx="488.4" cy="191.8" r="3.0" fill="#000"/>
<circle cx="494.7" cy="187.6" r="3.0" fill="#000"/>
<circle cx="515.6" cy="187.6" r="3.0" fill="#000"/>
<circle cx="526.1" cy="186.9" r="3.0" fill="#000"/>
<circle cx="464.1" cy="193.1" r="3.0" fill="#000"/>
<circle cx="457.8" cy="198.0" r="3.0" fill="#000"/>
<circle cx="461.3" cy="199.4" r="3.0" fill="#000"/>
<circle cx="466.8" cy="199.4" r="3.0" fill="#000"/>
<circle cx="470.3" cy="196.6" r="3.0" fill="#000"/>
<circle cx="476.6" cy="197.3" r="3.0" fill="#000"/>
<circle cx="481.5" cy="198.0" r="3.0" fill="#000"/>
<circle cx="483.6" cy="196.6" r="3.0" fill="#000"/>
<circle cx="489.1" cy="194.5" r="3.0" fill="#000"/>
<circle cx="489.1" cy="198.7" r="3.0" fill="#000"/>
<circle cx="494.7" cy="197.3" r="3.0" fill="#000"/>
<circle cx="496.8" cy="199.4" r="3.0" fill="#000"/>
<circle cx="503.1" cy="195.0" r="3.0" fill="#000"/>
<circle cx="508.7" cy="192.4" r="3.0" fill="#000"/>
<circle cx="514.2" cy="191.8" r="3.0" fill="#000"/>
<circle cx="512.1" cy="198.0" r="3.0" fill="#000"/>
<circle cx="530.9" cy="199.4" r="3.0" fill="#000"/>
<circle cx="535.1" cy="198.7" r="3.0" fill="#000"/>
<circle cx="512.1" cy="174.7" r="3.0" fill="#000"/>
<circle cx="515.9" cy="187.2" r="3.0" fill="#000"/>
<circle cx="514.2" cy="191.8" r="3.0" fill="#000"/>
<circle cx="512.5" cy="198.1" r="3.0" fill="#000"/>
<circle cx="433.0" cy="181.4" r="3.0" fill="#000"/>
<circle cx="430.5" cy="181.9" r="3.0" fill="#000"/>
<circle cx="436.0" cy="181.1" r="3.0" fill="#000"/>
<circle cx="440.9" cy="177.1" r="3.0" fill="#000"/>
<circle cx="436.5" cy="174.0" r="3.0" fill="#000"/>
<circle cx="450.5" cy="175.7" r="3.0" fill="#000"/>
<circle cx="452.3" cy="181.9" r="3.0" fill="#000"/>
<circle cx="448.0" cy="181.0" r="3.0" fill="#000"/>
<circle cx="444.0" cy="182.7" r="3.0" fill="#000"/>
<circle cx="440.9" cy="187.1" r="3.0" fill="#000"/>
<circle cx="440.0" cy="191.9" r="3.0" fill="#000"/>
<circle cx="449.7" cy="191.5" r="3.0" fill="#000"/>
<circle cx="443.5" cy="198.5" r="3.0" fill="#000"/>
<circle cx="446.2" cy="195.9" r="3.0" fill="#000"/>
<circle cx="454.0" cy="195.9" r="3.0" fill="#000"/>
<circle cx="457.5" cy="198.5" r="3.0" fill="#000"/>
<circle cx="461.9" cy="198.9" r="3.0" fill="#000"/>
<circle cx="464.5" cy="178.4" r="3.0" fill="#000"/>
<circle cx="463.7" cy="192.8" r="3.0" fill="#000"/>
<circle cx="415.5" cy="174.0" r="3.0" fill="#000"/>
<circle cx="413.8" cy="176.6" r="3.0" fill="#000"/>
<circle cx="417.3" cy="179.2" r="3.0" fill="#000"/>
<circle cx="413.8" cy="185.4" r="3.0" fill="#000"/>
<circle cx="423.4" cy="184.5" r="3.0" fill="#000"/>
<circle cx="419.0" cy="186.2" r="3.0" fill="#000"/>
<circle cx="412.9" cy="195.0" r="3.0" fill="#000"/>
<circle cx="412.9" cy="199.4" r="3.0" fill="#000"/>
<circle cx="416.4" cy="197.6" r="3.0" fill="#000"/>
<circle cx="420.8" cy="199.4" r="3.0" fill="#000"/>
<circle cx="419.9" cy="195.0" r="3.0" fill="#000"/>
<circle cx="418.1" cy="190.6" r="3.0" fill="#000"/>
<circle cx="426.0" cy="188.9" r="3.0" fill="#000"/>
<circle cx="429.5" cy="187.1" r="3.0" fill="#000"/>
<circle cx="433.9" cy="189.7" r="3.0" fill="#000"/>
<circle cx="426.9" cy="193.2" r="3.0" fill="#000"/>
<circle cx="431.3" cy="193.2" r="3.0" fill="#000"/>
<circle cx="434.8" cy="194.1" r="3.0" fill="#000"/>
<circle cx="426.9" cy="198.5" r="3.0" fill="#000"/>
<circle cx="431.3" cy="199.4" r="3.0" fill="#000"/>
<circle cx="437.4" cy="198.9" r="3.0" fill="#000"/>
<circle cx="423.4" cy="197.6" r="3.0" fill="#000"/>
<circle cx="415.0" cy="189.1" r="3.0" fill="#000"/>
<circle cx="422.0" cy="192.1" r="3.0" fill="#000"/>
<circle cx="416.0" cy="182.1" r="3.0" fill="#000"/>
<circle cx="420.0" cy="188.1" r="3.0" fill="#000"/>
<circle cx="521.9" cy="174.7" r="3.0" fill="#0000ff"/>
<circle cx="529.5" cy="178.6" r="3.0" fill="#0000ff"/>
<circle cx="543.6" cy="172.7" r="3.0" fill="#0000ff"/>
<circle cx="545.0" cy="172.5" r="3.0" fill="#0000ff"/>
<circle cx="545.0" cy="172.9" r="3.0" fill="#0000ff"/>
<circle cx="558.8" cy="199.1" r="3.0" fill="#0000ff"/>
<circle cx="526.0" cy="152.3" r="3.0" fill="#e8111e"/>
<circle cx="570.7" cy="176.5" r="3.0" fill="#e8111e"/>
<circle cx="655.1" cy="184.0" r="3.0" fill="#e8111e"/>
<circle cx="655.1" cy="194.1" r="3.0" fill="#e8111e"/>
<line x1="652.6" x2="652.6" y1="178.6" y2="200.3" stroke="#3c4646" stroke-width="1.2"/>
<text x="526.5" y="176.6" font-size="5.1" fill="#555">04350</text>
<text x="534.1" y="180.5" font-size="5.1" fill="#555">04810</text>
<text x="549.6" y="174.4" font-size="5.1" fill="#555">04520</text>
<text x="549.6" y="174.8" font-size="5.1" fill="#555">04530</text>
<text x="563.4" y="201.0" font-size="5.1" fill="#555">05166</text>
<text x="530.6" y="154.2" font-size="5.1" fill="#222">04380</text>
<text x="575.3" y="178.4" font-size="5.1" fill="#222">04512</text>
<text x="659.7" y="185.9" font-size="5.1" fill="#222">04510</text>
<text x="659.7" y="196.0" font-size="5.1" fill="#222">05200</text>
</g>
</svg></body></html>
